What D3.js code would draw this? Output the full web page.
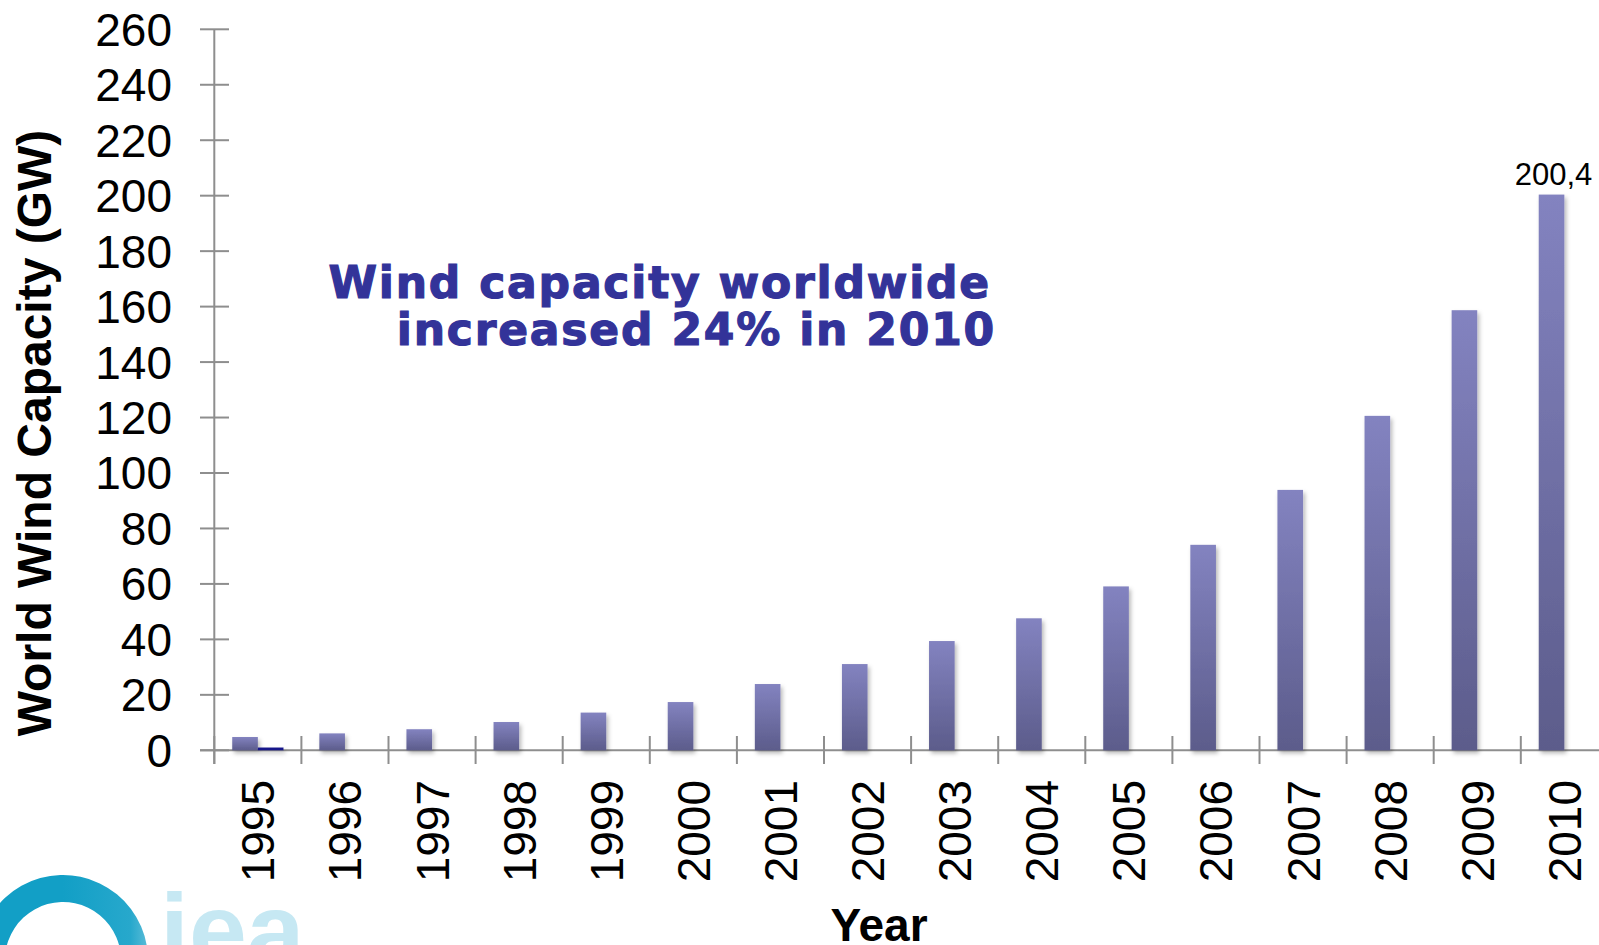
<!DOCTYPE html>
<html>
<head>
<meta charset="utf-8">
<script src="https://cdn.jsdelivr.net/npm/d3@7"></script>
<style>
  html, body { margin: 0; padding: 0; background: #ffffff; overflow: hidden; }
  svg { display: block; }
</style>
</head>
<body>
<svg id="chart" width="1599" height="945"></svg>
<script>
// Installed world wind capacity, GW
const years = ["1995","1996","1997","1998","1999","2000","2001","2002","2003","2004","2005","2006","2007","2008","2009","2010"];
const capacity = [4.8, 6.1, 7.6, 10.2, 13.6, 17.4, 23.9, 31.1, 39.4, 47.6, 59.1, 74.1, 93.9, 120.6, 158.7, 200.4];
const secondary = [1.0, null, null, null, null, null, null, null, null, null, null, null, null, null, null, null];
const yTicks = [0, 20, 40, 60, 80, 100, 120, 140, 160, 180, 200, 220, 240, 260];
const labelled = { "2010": "200,4" };
const headline = ["Wind capacity worldwide", "increased 24% in 2010"];

const svg = d3.select("#chart");
const font = "'Liberation Sans', Arial, Helvetica, sans-serif";

const x0 = 214.3, step = 87.1;
const x = d3.scaleBand().domain(years).range([x0, x0 + step * years.length]).paddingInner(0).paddingOuter(0);
const xs = d3.scaleBand().domain(["a", "b"]).range([0, x.bandwidth()]).paddingInner(0).paddingOuter(0.7);
const y = d3.scaleLinear().domain([0, 260]).range([750.3, 29.3]);

const defs = svg.append("defs");
const grad = defs.append("linearGradient").attr("id", "barFill")
  .attr("x1", 0).attr("y1", 0).attr("x2", 0).attr("y2", 1);
grad.append("stop").attr("offset", "0%").attr("stop-color", "#8383c0");
grad.append("stop").attr("offset", "100%").attr("stop-color", "#5c5c8b");

const shadow = defs.append("filter").attr("id", "barShadow")
  .attr("x", "-30%").attr("y", "-10%").attr("width", "170%").attr("height", "130%");
shadow.append("feDropShadow").attr("dx", 2).attr("dy", 3).attr("stdDeviation", 2.2)
  .attr("flood-color", "#000").attr("flood-opacity", 0.28);

const ring = defs.append("linearGradient").attr("id", "ringFill")
  .attr("gradientUnits", "userSpaceOnUse").attr("x1", 0).attr("y1", 0).attr("x2", 150).attr("y2", 0);
ring.append("stop").attr("offset", "0%").attr("stop-color", "#129fc6");
ring.append("stop").attr("offset", "45%").attr("stop-color", "#27a8cc");
ring.append("stop").attr("offset", "80%").attr("stop-color", "#bfe4ef");
ring.append("stop").attr("offset", "100%").attr("stop-color", "#eef8fb");

// IEA mark in the lower-left corner
const logo = svg.append("g");
logo.append("path")
  .attr("transform", "translate(63,960)")
  .attr("d", d3.arc().innerRadius(58).outerRadius(85).startAngle(-Math.PI * 0.62).endAngle(Math.PI * 0.6)())
  .attr("fill", "url(#ringFill)");
logo.append("text")
  .attr("x", 160).attr("y", 966)
  .attr("font-family", font).attr("font-weight", "bold").attr("font-size", 104)
  .attr("fill", "#c6e8f3").text("iea");

// Axes
const axisColor = "#8e8e8e";
const axes = svg.append("g").attr("stroke", axisColor).attr("stroke-width", 2);
axes.append("line").attr("x1", x0).attr("x2", x0).attr("y1", y(260)).attr("y2", 764);
axes.append("line").attr("x1", 200).attr("x2", 1610).attr("y1", y(0)).attr("y2", y(0));
axes.selectAll(".yt").data(yTicks).join("line")
  .attr("x1", 200).attr("x2", 229).attr("y1", d => y(d)).attr("y2", d => y(d));
axes.selectAll(".xt").data(d3.range(years.length + 1)).join("line")
  .attr("x1", i => x0 + i * x.step()).attr("x2", i => x0 + i * x.step())
  .attr("y1", 736).attr("y2", 764);

// Y tick labels
svg.append("g").selectAll("text").data(yTicks).join("text")
  .attr("x", 172).attr("y", d => y(d) + 16.5)
  .attr("text-anchor", "end")
  .attr("font-family", font).attr("font-size", 46).attr("fill", "#000")
  .text(d => d);

// X tick labels, rotated
svg.append("g").selectAll("text").data(years).join("text")
  .attr("transform", d => `translate(${x(d) + x.bandwidth() / 2 + 16.5},780) rotate(-90)`)
  .attr("text-anchor", "end")
  .attr("font-family", font).attr("font-size", 46).attr("fill", "#000")
  .text(d => d);

// Bars
const bars = svg.append("g").attr("filter", "url(#barShadow)");
bars.selectAll(".cap").data(years).join("rect")
  .attr("x", d => x(d) + xs("a"))
  .attr("width", xs.bandwidth())
  .attr("y", (d, i) => y(capacity[i]))
  .attr("height", (d, i) => y(0) - y(capacity[i]))
  .attr("fill", "url(#barFill)");
bars.selectAll(".sec").data(years.filter((d, i) => secondary[i] != null)).join("rect")
  .attr("x", d => x(d) + xs("b"))
  .attr("width", xs.bandwidth())
  .attr("y", d => y(secondary[years.indexOf(d)]))
  .attr("height", d => y(0) - y(secondary[years.indexOf(d)]))
  .attr("fill", "#14148a");

// Value label
svg.append("g").selectAll("text").data(Object.keys(labelled)).join("text")
  .attr("x", d => x(d) + xs("a") + xs.bandwidth() / 2 + 2)
  .attr("y", d => y(capacity[years.indexOf(d)]) - 10)
  .attr("text-anchor", "middle")
  .attr("font-family", font).attr("font-size", 31).attr("fill", "#000")
  .text(d => labelled[d]);

// Axis titles
svg.append("text")
  .attr("transform", "translate(51,433) rotate(-90)")
  .attr("text-anchor", "middle")
  .attr("font-family", font).attr("font-weight", "bold").attr("font-size", 48).attr("fill", "#000")
  .text("World Wind Capacity (GW)");
svg.append("text")
  .attr("x", 879).attr("y", 941)
  .attr("text-anchor", "middle")
  .attr("font-family", font).attr("font-weight", "bold").attr("font-size", 46).attr("fill", "#000")
  .text("Year");

// Headline
svg.append("g").selectAll("text").data(headline).join("text")
  .attr("x", (d, i) => i === 0 ? 991 : 996)
  .attr("y", (d, i) => 298 + i * 47)
  .attr("text-anchor", "end")
  .attr("font-family", "'DejaVu Sans', Verdana, sans-serif").attr("font-weight", "bold")
  .attr("font-size", 44).attr("letter-spacing", 1.8)
  .attr("fill", "#333399").attr("stroke", "#333399").attr("stroke-width", 1.2)
  .text(d => d);
</script>
</body>
</html>
